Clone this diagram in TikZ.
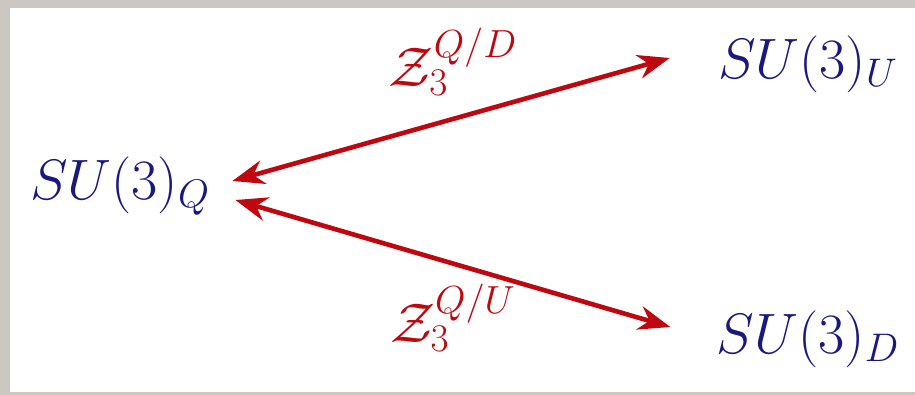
\documentclass[tikz,border=0pt]{standalone}
\usepackage{fix-cm}
\usetikzlibrary{arrows.meta,positioning}
\definecolor{grpblue}{RGB}{24,24,128}
\definecolor{maparrow}{RGB}{192,6,14}
\definecolor{frameback}{RGB}{202,200,192}

\begin{document}
\begin{tikzpicture}[x=0.5pt,y=-0.5pt,>=Stealth]
  \tikzset{group/.style={text=grpblue,inner sep=0pt,font=\fontsize{28.5}{34}\selectfont},
    quot/.style={text=maparrow,inner sep=0pt,font=\fontsize{28}{33}\selectfont},
    arr/.style={{Stealth[length=16pt,width=12pt]}-{Stealth[length=16pt,width=12pt]},
      maparrow,line width=2.3pt}}
  % Frame
  \fill[frameback] (0,0) rectangle (915,395);
  \fill[white] (10,8) rectangle (915,392);

  % Groups
  \node[group] (Q) at (120,186) {$SU(3)_Q$};
  \node[group] (U) at (808,64) {$SU(3)_U$};
  \node[group] (D) at (808,339) {$SU(3)_D$};

  % Quotient maps
  \draw[arr] ([shift={(22,-5)}]Q.east) -- ([shift={(-48,-6)}]U.west);
  \draw[arr] ([shift={(25,14)}]Q.east) -- ([shift={(-46,-12)}]D.west);

  % Labels
  \node[quot] (zd) at (453,62) {$\mathcal{Z}_3^{Q/D}$};
  \node[quot] (zu) at (453,318) {$\mathcal{Z}_3^{Q/U}$};
\end{tikzpicture}
\end{document}
